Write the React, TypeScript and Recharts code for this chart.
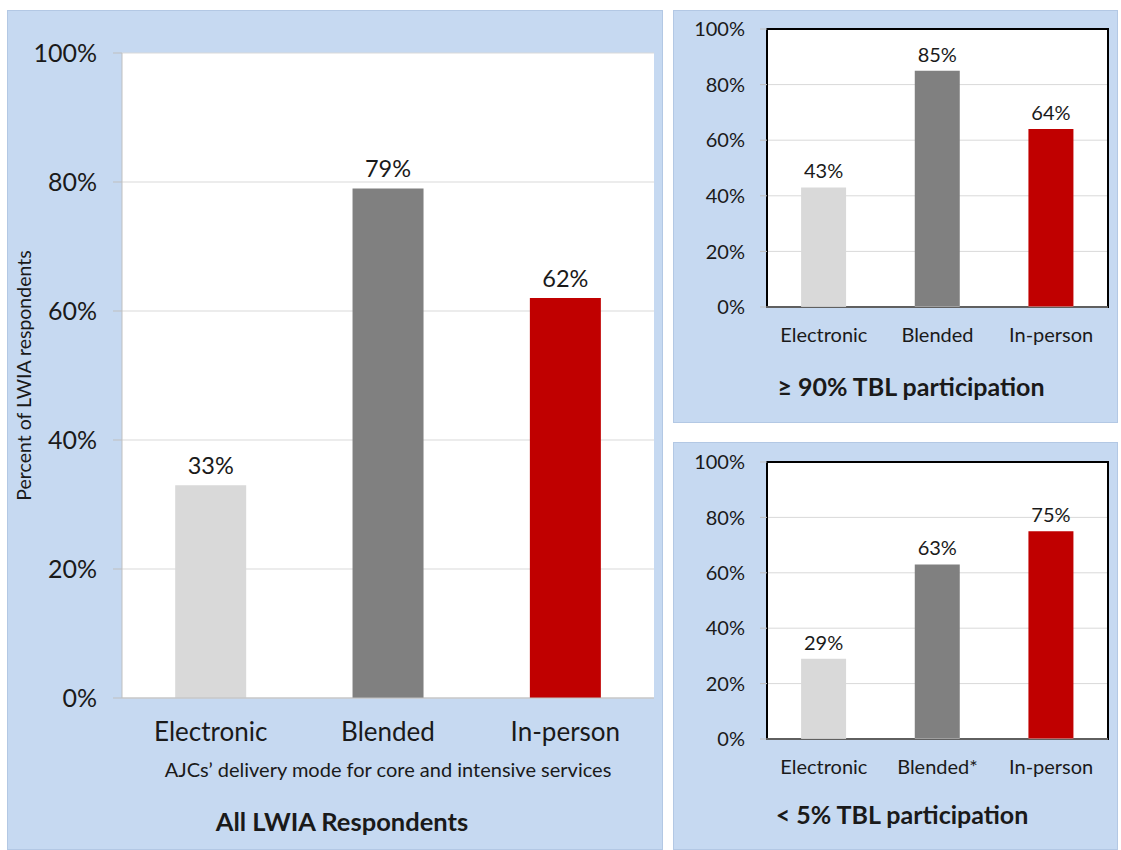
import { BarChart, Bar, XAxis, YAxis, CartesianGrid, Cell, LabelList, ReferenceArea } from 'recharts'

const categories = ['Electronic', 'Blended', 'In-person']
const lowCategories = ['Electronic', 'Blended*', 'In-person']
const allValues = [33, 79, 62]
const highValues = [43, 85, 64]
const lowValues = [29, 63, 75]
const barColors = ['#d9d9d9', '#808080', '#c00000']
const yTicks = [0, 20, 40, 60, 80, 100]
const edgeTicks = [0, 1, 2, 3]

const FONT = 'Lato, "Open Sans", sans-serif'
const PANEL_BG = '#c6d9f1'
const TEXT = '#1a1a1a'
const AXIS = '#bfbfbf'

interface PanelChartProps {
  labels: string[]
  values: number[]
  width: number
  height: number
  margin: { top: number; right: number; bottom: number; left: number }
  yAxisWidth: number
  xAxisHeight: number
  xTickFont: number
  yTickFont: number
  valueFont: number
  valueOffset: number
  yTickSize: number
  yTickMargin: number
  xTickSize: number
  xTickMargin: number
  boxed: boolean
  yTitle?: string
}

function PanelChart(p: PanelChartProps) {
  const data = p.labels.map((name, i) => ({ name, value: p.values[i] }))
  return (
    <BarChart width={p.width} height={p.height} data={data} margin={p.margin} barCategoryGap='30%'>
      <CartesianGrid vertical={false} stroke='#d9d9d9' fill='#ffffff' fillOpacity={1} />
      <XAxis
        xAxisId='edge'
        type='number'
        domain={[0, 3]}
        ticks={edgeTicks}
        allowDataOverflow
        height={0}
        tick={false}
        axisLine={false}
        tickSize={p.xTickSize}
        tickLine={{ stroke: AXIS }}
      />
      <XAxis
        dataKey='name'
        height={p.xAxisHeight}
        tickLine={false}
        tickSize={p.xTickSize}
        tickMargin={p.xTickMargin}
        axisLine={{ stroke: AXIS }}
        tick={{ fontSize: p.xTickFont, fill: TEXT }}
        interval={0}
      />
      <YAxis
        width={p.yAxisWidth}
        domain={[0, 100]}
        ticks={yTicks}
        allowDataOverflow
        tickFormatter={(v: number) => `${v}%`}
        tick={{ fontSize: p.yTickFont, fill: TEXT }}
        tickSize={p.yTickSize}
        tickMargin={p.yTickMargin}
        tickLine={{ stroke: AXIS }}
        axisLine={p.boxed ? false : { stroke: AXIS }}
        label={
          p.yTitle
            ? { value: p.yTitle, angle: -90, position: 'center', dx: -40, fontSize: 19.5, fill: TEXT }
            : undefined
        }
      />
      <Bar dataKey='value' isAnimationActive={false}>
        {data.map((d, i) => (
          <Cell key={d.name} fill={barColors[i]} />
        ))}
        <LabelList
          dataKey='value'
          position='top'
          offset={p.valueOffset}
          formatter={(v: number) => `${v}%`}
          fontSize={p.valueFont}
          fill={TEXT}
        />
      </Bar>
      {p.boxed && (
        <ReferenceArea y1={0} y2={100} fill='none' fillOpacity={0} stroke='#000000' strokeWidth={2} ifOverflow='visible' />
      )}
    </BarChart>
  )
}

function Title({ text, cx, cy, size, bold }: { text: string; cx: number; cy: number; size: number; bold?: boolean }) {
  return (
    <div
      style={{
        position: 'absolute',
        left: cx - 250,
        width: 500,
        top: cy - 16,
        height: 32,
        lineHeight: '32px',
        textAlign: 'center',
        fontSize: size,
        fontWeight: bold ? 700 : 400,
        color: TEXT,
        whiteSpace: 'nowrap',
      }}
    >
      {text}
    </div>
  )
}

const panelStyle = (left: number, top: number, width: number, height: number): React.CSSProperties => ({
  position: 'absolute',
  left,
  top,
  width,
  height,
  background: PANEL_BG,
  boxShadow: 'inset 0 0 0 1px #b3c8e4',
})

export default function App() {
  return (
    <div style={{ position: 'absolute', left: 0, top: 0, width: 1121, height: 850, background: '#fff', fontFamily: FONT }}>
      <div style={panelStyle(7, 10, 656, 840)}>
        <PanelChart
          labels={categories}
          values={allValues}
          width={656}
          height={840}
          margin={{ top: 43, right: 9, bottom: 92, left: 0 }}
          yAxisWidth={115}
          xAxisHeight={60}
          xTickFont={26}
          yTickFont={25}
          valueFont={23.5}
          valueOffset={11}
          yTickSize={9}
          yTickMargin={16}
          xTickSize={10}
          xTickMargin={15}
          boxed={false}
          yTitle='Percent of LWIA respondents'
        />
        <Title text='AJCs’ delivery mode for core and intensive services' cx={381} cy={759} size={20} />
        <Title text='All LWIA Respondents' cx={335} cy={811} size={25.5} bold />
      </div>

      <div style={panelStyle(673, 10, 445, 413)}>
        <PanelChart
          labels={categories}
          values={highValues}
          width={445}
          height={413}
          margin={{ top: 19, right: 10, bottom: 66, left: 0 }}
          yAxisWidth={94}
          xAxisHeight={50}
          xTickFont={20}
          yTickFont={20}
          valueFont={20}
          valueOffset={9}
          yTickSize={7}
          yTickMargin={15}
          xTickSize={8}
          xTickMargin={13}
          boxed
        />
        <Title text='≥ 90% TBL participation' cx={238} cy={376} size={25} bold />
      </div>

      <div style={panelStyle(673, 442, 445, 408)}>
        <PanelChart
          labels={lowCategories}
          values={lowValues}
          width={445}
          height={408}
          margin={{ top: 20, right: 10, bottom: 61, left: 0 }}
          yAxisWidth={94}
          xAxisHeight={50}
          xTickFont={20}
          yTickFont={20}
          valueFont={20}
          valueOffset={9}
          yTickSize={7}
          yTickMargin={15}
          xTickSize={8}
          xTickMargin={13}
          boxed
        />
        <Title text='< 5% TBL participation' cx={229} cy={372} size={25} bold />
      </div>
    </div>
  )
}
